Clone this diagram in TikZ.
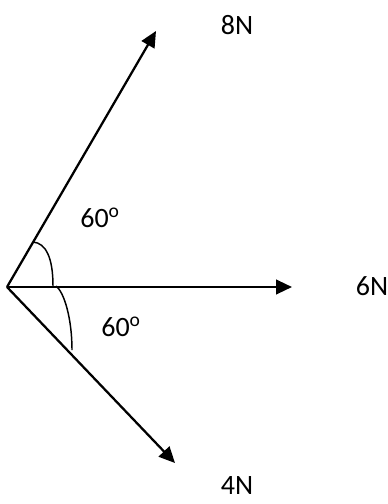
\documentclass[tikz,border=0pt]{standalone}
\usepackage{fontspec}
\setmainfont{Carlito}
\usetikzlibrary{positioning, arrows.meta}

\begin{document}
\begin{tikzpicture}[
    x=0.75pt, y=-0.75pt,
    force/.style={-{Triangle[length=12pt, width=11pt]}, line width=1.7pt},
    anglearc/.style={line width=1.1pt},
    lbl/.style={font=\fontsize{21}{25}\selectfont, inner sep=0pt}
]
    \useasboundingbox (0, 0) rectangle (388, 504);

    % Point of application and arrow tips
    \coordinate (O) at (7, 287);
    \coordinate (up) at (156, 31);
    \coordinate (right) at (292, 287);
    \coordinate (down) at (175, 463);

    % Forces
    \draw[force] (O) -- (up);
    \draw[force] (O) -- (right);
    \draw[force] (O) -- (down);

    % Force labels
    \node[lbl] (f8) at (237, 25) {8N};
    \node[lbl] (f6) at (372, 286) {6N};
    \node[lbl] (f4) at (237, 486) {4N};

    % Angle arcs
    \coordinate (a1) at (33, 242);
    \coordinate (a2) at (53, 286);
    \coordinate (b1) at (56, 286);
    \coordinate (b2) at (72, 350);
    \draw[anglearc] (a1) .. controls (46, 243) and (53, 258) .. (a2);
    \draw[anglearc] (b1) .. controls (64, 292) and (72, 318) .. (b2);

    % Angle labels
    \node[lbl] (ang1) at (100, 218) {60\textsuperscript{o}};
    \node[lbl] (ang2) at (121, 327) {60\textsuperscript{o}};
\end{tikzpicture}
\end{document}
